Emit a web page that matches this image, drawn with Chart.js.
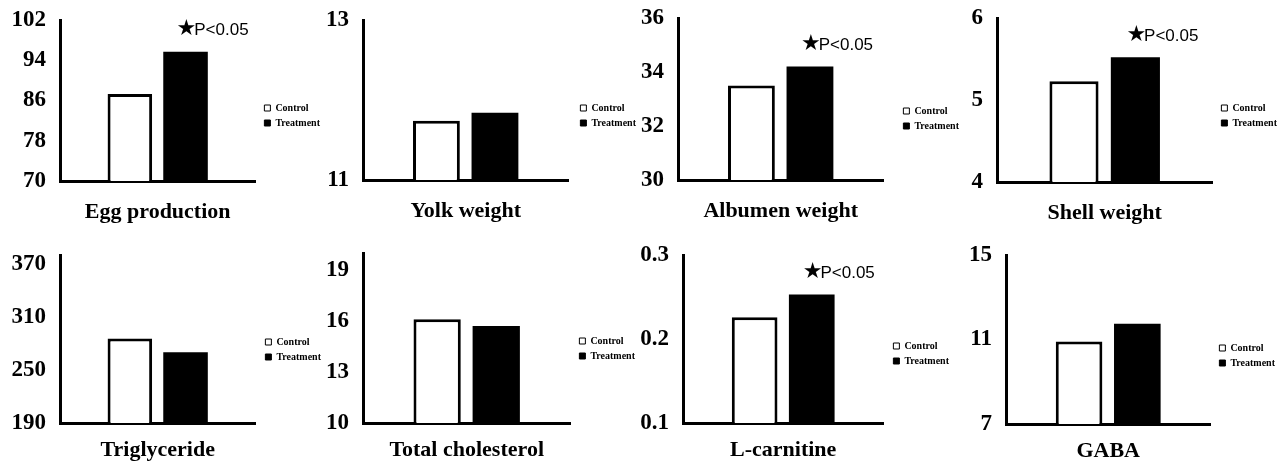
<!DOCTYPE html>
<html>
<head>
<meta charset="utf-8">
<script src="https://cdn.jsdelivr.net/npm/chart.js@4/dist/chart.umd.min.js"></script>
<style>
  body { margin: 0; background: #fff; }
  #wrap { position: relative; width: 1280px; height: 463px; overflow: hidden; background: #fff; }
  #wrap canvas { position: absolute; }
</style>
</head>
<body>
<div id="wrap"></div>
<script>
// values
var names = ['Egg production', 'Yolk weight', 'Albumen weight', 'Shell weight',
             'Triglyceride', 'Total cholesterol', 'L-carnitine', 'GABA'];
var controlVals   = [87.3, 11.74, 33.5, 5.23, 285.5, 16.1, 0.226, 10.9];
var treatmentVals = [95.7, 11.84, 34.2, 5.52, 270, 15.7, 0.253, 11.75];
var yMins  = [70, 11, 30, 4, 190, 10, 0.1, 7];
var yMaxs  = [102, 13, 36, 6, 380, 20, 0.3, 15];
var yTicks = [[70, 78, 86, 94, 102], [11, 13], [30, 32, 34, 36], [4, 5, 6],
              [190, 250, 310, 370], [10, 13, 16, 19], [0.1, 0.2, 0.3], [7, 11, 15]];
var significant = [true, false, true, true, false, false, true, false];
var seriesNames = ['Control', 'Treatment'];

// panel placement (pixels): plot area edges, legend box x, first legend text y
var areaL = [60, 363, 678, 997, 60, 363, 683, 1006];
var areaR = [255, 568, 883, 1212, 255, 570, 883, 1210];
var areaT = [20, 20, 18, 18, 255, 253, 255, 255];
var areaB = [181, 180, 180, 182, 423, 423, 423, 424];
var legX  = [264, 580, 903, 1221, 265, 579, 893, 1219];
var legY  = [107, 107, 110, 107, 341, 340, 345, 347];

Chart.defaults.animation = false;
Chart.defaults.color = '#000';

var serif = "'Liberation Serif', 'Times New Roman', serif";
var YW = 60, PADT = 34, LEGPAD = 5, LEGFONT = 10;

// width the legend will take, so the plot area ends where it should
var mctx = document.createElement('canvas').getContext('2d');
mctx.font = 'bold ' + LEGFONT + 'px ' + serif;
var legTextW = Math.max.apply(null, seriesNames.map(function(s) { return mctx.measureText(s).width; }));
var LEGW = LEGPAD + 6 + LEGFONT / 2 + legTextW + 10;

function sigPlugin(i) {
  return {
    id: 'sig' + i,
    afterDatasetsDraw: function(chart) {
      if (!significant[i]) return;
      var bar = chart.getDatasetMeta(1).data[0];
      var ctx = chart.ctx;
      var x = bar.x - 7, y = bar.y - 22;
      ctx.save();
      ctx.fillStyle = '#000';
      ctx.textBaseline = 'middle';
      ctx.textAlign = 'left';
      ctx.font = "22px 'DejaVu Sans'";
      ctx.fillText('\u2605', x - 2, y);
      var w = ctx.measureText('\u2605').width;
      ctx.font = "17px 'Liberation Sans', Arial, sans-serif";
      ctx.fillText('P<0.05', x + w - 4, y + 1);
      ctx.restore();
    }
  };
}

names.forEach(function(name, i) {
  var top = i < 4;
  var cl = areaL[i] - YW;
  var ct = areaT[i] - PADT;
  var gap = legX[i] - LEGPAD - areaR[i];
  var hx = top ? 50 : 44;
  var cw = Math.round((areaR[i] - cl) + gap + LEGW);
  var ch = (areaB[i] - ct) + hx;
  var titlePad = legY[i] - areaT[i] - LEGPAD - 6 - 10;

  var cv = document.createElement('canvas');
  cv.width = cw; cv.height = ch;
  cv.style.left = cl + 'px';
  cv.style.top = ct + 'px';
  document.getElementById('wrap').appendChild(cv);

  new Chart(cv, {
    type: 'bar',
    data: {
      labels: [name],
      datasets: [
        { label: seriesNames[0], data: [controlVals[i]], backgroundColor: '#fff',
          borderColor: '#000', borderWidth: 3 },
        { label: seriesNames[1], data: [treatmentVals[i]], backgroundColor: '#000',
          borderColor: '#000', borderWidth: 0 }
      ]
    },
    options: {
      responsive: false,
      devicePixelRatio: 1,
      categoryPercentage: 0.57,
      barPercentage: 0.8,
      layout: { padding: { top: PADT, left: 0, right: 0, bottom: 0 } },
      plugins: {
        tooltip: { enabled: false },
        legend: {
          position: 'right',
          align: 'start',
          title: { display: true, text: '', font: { size: 10 }, padding: { top: titlePad, bottom: 0 } },
          labels: {
            boxWidth: 6, boxHeight: 6, padding: LEGPAD, color: '#000',
            font: { family: serif, size: LEGFONT, weight: 'bold' },
            generateLabels: function(chart) {
              return Chart.defaults.plugins.legend.labels.generateLabels(chart).map(function(l) {
                l.lineWidth = 1; l.strokeStyle = '#000';
                return l;
              });
            }
          }
        }
      },
      scales: {
        x: {
          z: 1,
          grid: { display: false, drawTicks: false },
          border: { display: true, color: '#000', width: 3 },
          ticks: { padding: top ? 18 : 14, color: '#000',
                   font: { family: serif, size: 22, weight: 'bold' } },
          afterFit: function(s) { s.height = hx; }
        },
        y: {
          min: yMins[i], max: yMaxs[i],
          grid: { display: false, drawTicks: false },
          border: { display: true, color: '#000', width: 3 },
          ticks: { padding: 14, color: '#000',
                   font: { family: serif, size: 23, weight: 'bold' } },
          afterBuildTicks: function(s) {
            s.ticks = yTicks[i].map(function(v) { return { value: v }; });
          },
          afterFit: function(s) { s.width = YW; }
        },
        // empty spacer between the plot and the legend
        gap: {
          type: 'linear', axis: 'y', position: 'right', display: false,
          afterFit: function(s) { s.width = gap; }
        }
      }
    },
    plugins: [sigPlugin(i)]
  });
});
</script>
</body>
</html>
